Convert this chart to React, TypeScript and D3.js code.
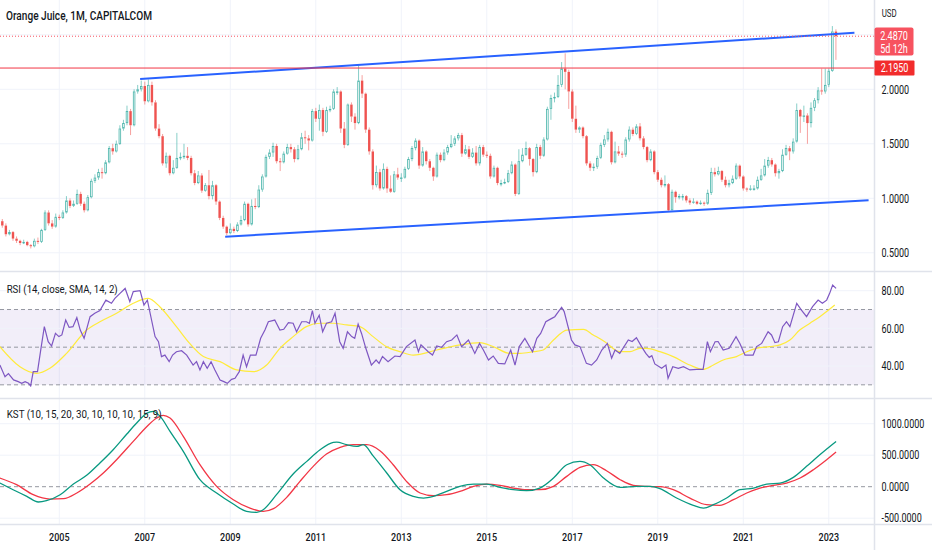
import React from 'react';
import * as d3 from 'd3';

// ---------- DATA ----------
// Monthly bars, first bar = Sep 2003 (month index relative to Jan 2005)
const firstBarMonth = -16;
const firstOpen = 0.79;
const closes = [
  0.75,0.67,0.69,0.63,0.61,0.59,0.60,0.57,0.56,0.61,0.60,0.71,0.87,0.77,0.74,0.83,
  0.82,0.87,0.98,0.93,0.95,1.04,0.95,0.89,1.01,1.16,1.19,1.24,
  1.23,1.33,1.46,1.43,1.50,1.64,1.69,1.80,1.67,1.98,2.00,2.03,
  1.89,2.04,1.88,1.64,1.57,1.32,1.39,1.23,1.28,1.37,1.38,1.39,
  1.37,1.23,1.14,1.21,1.07,1.12,1.02,1.12,0.97,0.82,0.74,0.68,
  0.72,0.70,0.76,0.80,0.95,0.76,0.93,0.92,1.08,1.20,1.38,1.42,
  1.48,1.34,1.33,1.41,1.47,1.45,1.36,1.45,1.56,1.55,1.53,1.80,
  1.73,1.81,1.61,1.81,1.82,1.98,1.98,1.64,1.49,1.86,1.75,1.69,
  2.08,1.96,1.63,1.43,1.12,1.24,1.09,1.27,1.09,1.06,1.22,1.19,
  1.19,1.27,1.36,1.46,1.53,1.30,1.43,1.34,1.28,1.20,1.40,1.35,
  1.42,1.47,1.50,1.55,1.58,1.41,1.45,1.38,1.42,1.32,1.47,1.40,
  1.39,1.20,1.28,1.14,1.14,1.15,1.23,1.31,1.04,1.34,1.40,1.46,
  1.36,1.24,1.47,1.39,1.54,1.82,1.92,1.93,2.04,2.19,2.16,1.98,
  1.73,1.63,1.65,1.57,1.32,1.28,1.29,1.37,1.49,1.54,1.61,1.33,
  1.43,1.41,1.40,1.54,1.63,1.59,1.66,1.55,1.47,1.35,1.43,1.24,
  1.17,1.12,1.13,0.89,1.06,1.01,1.02,1.02,0.98,0.96,0.97,0.95,
  0.96,0.95,1.05,1.24,1.22,1.25,1.17,1.12,1.14,1.18,1.30,1.20,
  1.09,1.08,1.09,1.09,1.17,1.21,1.30,1.35,1.31,1.23,1.25,1.40,
  1.46,1.43,1.52,1.81,1.75,1.76,1.69,1.83,1.90,1.99,1.98,2.04,
  2.17,2.53,2.487,
];
const highs = [
  0.81,0.77,0.71,0.70,0.65,0.62,0.62,0.61,0.58,0.63,0.64,0.72,0.89,0.89,0.80,0.86,
  0.85,0.89,1.02,1.00,0.98,1.08,1.06,0.97,1.03,1.18,1.22,1.27,
  1.28,1.35,1.48,1.50,1.53,1.67,1.72,1.85,1.82,2.00,2.04,2.08,
  2.07,2.09,2.07,1.90,1.68,1.59,1.42,1.40,1.35,1.60,1.42,1.50,
  1.47,1.39,1.26,1.25,1.23,1.14,1.26,1.16,1.13,0.98,0.84,0.75,
  0.77,0.74,0.78,0.84,0.97,0.96,0.99,1.00,1.12,1.22,1.40,1.45,
  1.51,1.50,1.37,1.43,1.50,1.50,1.47,1.49,1.60,1.62,1.58,1.82,
  1.83,1.86,1.83,1.84,1.85,2.00,2.02,1.99,1.70,1.87,1.88,1.78,
  2.22,2.13,1.97,1.65,1.45,1.30,1.27,1.32,1.29,1.21,1.25,1.28,
  1.23,1.29,1.38,1.48,1.55,1.54,1.47,1.44,1.36,1.29,1.42,1.42,
  1.45,1.49,1.58,1.57,1.60,1.60,1.49,1.48,1.46,1.48,1.49,1.49,
  1.43,1.41,1.30,1.29,1.17,1.18,1.26,1.34,1.32,1.45,1.46,1.52,
  1.47,1.37,1.50,1.49,1.56,1.84,1.95,1.97,2.13,2.25,2.33,2.18,
  2.00,1.85,1.66,1.66,1.58,1.34,1.32,1.39,1.51,1.58,1.64,1.62,
  1.52,1.48,1.43,1.56,1.66,1.65,1.68,1.69,1.57,1.48,1.45,1.44,
  1.26,1.19,1.21,1.14,1.08,1.07,1.04,1.04,1.03,1.00,1.00,0.98,
  0.98,0.97,1.08,1.28,1.28,1.29,1.26,1.20,1.17,1.21,1.32,1.31,
  1.21,1.10,1.12,1.12,1.20,1.27,1.36,1.38,1.37,1.32,1.27,1.45,
  1.49,1.48,1.55,1.87,1.82,1.85,1.78,1.88,1.92,2.02,2.19,2.19,
  2.19,2.58,2.55,
];
const lows = [
  0.73,0.65,0.66,0.61,0.59,0.57,0.58,0.56,0.54,0.55,0.58,0.59,0.70,0.75,0.72,0.73,
  0.80,0.81,0.86,0.91,0.92,0.94,0.93,0.87,0.88,1.00,1.14,1.17,
  1.18,1.22,1.32,1.40,1.42,1.49,1.62,1.67,1.58,1.66,1.96,1.98,
  1.86,1.88,1.85,1.62,1.55,1.30,1.28,1.21,1.22,1.27,1.35,1.36,
  1.35,1.21,1.12,1.13,1.05,1.06,0.99,0.99,0.94,0.80,0.72,0.66,
  0.67,0.68,0.69,0.75,0.79,0.74,0.75,0.90,0.91,1.06,1.19,1.36,
  1.38,1.32,1.25,1.32,1.40,1.42,1.33,1.35,1.44,1.50,1.44,1.52,
  1.70,1.62,1.57,1.60,1.79,1.81,1.95,1.60,1.46,1.48,1.70,1.63,
  1.68,1.92,1.60,1.40,1.08,1.10,1.07,1.08,1.05,1.05,1.05,1.17,
  1.15,1.18,1.26,1.34,1.44,1.27,1.29,1.31,1.25,1.16,1.19,1.33,
  1.34,1.40,1.46,1.48,1.53,1.38,1.40,1.36,1.37,1.30,1.30,1.38,
  1.37,1.18,1.19,1.12,1.11,1.13,1.14,1.22,1.02,1.03,1.33,1.39,
  1.30,1.20,1.23,1.36,1.38,1.53,1.72,1.88,1.92,2.02,2.00,1.82,
  1.70,1.60,1.60,1.55,1.30,1.25,1.25,1.27,1.36,1.47,1.52,1.31,
  1.32,1.39,1.37,1.38,1.52,1.57,1.58,1.53,1.45,1.33,1.34,1.22,
  1.15,1.10,1.10,0.88,0.90,0.96,0.99,0.98,0.96,0.94,0.95,0.94,
  0.94,0.93,0.94,1.03,1.20,1.21,1.15,1.10,1.10,1.13,1.17,1.18,
  1.07,1.06,1.07,1.07,1.08,1.16,1.20,1.28,1.29,1.20,1.18,1.24,
  1.39,1.35,1.41,1.51,1.60,1.70,1.50,1.65,1.80,1.87,1.95,1.96,
  2.02,2.16,2.27,
];

// RSI (14) line, [decimal year, value]
const rsiPoints: [number, number][] = [
  [2003.61,40.5],[2003.73,34.3],[2003.81,36.0],[2003.93,32.6],[2004.04,31.7],[2004.12,30.8],[2004.20,31.7],[2004.28,30.8],
  [2004.33,29.4],[2004.39,37.0],[2004.49,37.0],[2004.56,47.6],[2004.65,60.9],[2004.74,52.9],[2004.82,50.6],[2004.91,57.3],
  [2004.99,55.6],[2005.06,56.5],[2005.15,64.4],[2005.23,60.5],[2005.32,60.9],[2005.41,65.7],[2005.49,59.1],[2005.58,54.7],
  [2005.72,66.2],[2005.83,68.0],[2005.95,69.4],[2006.09,75.0],[2006.22,73.3],[2006.30,75.9],[2006.42,78.6],[2006.54,81.2],
  [2006.65,74.2],[2006.73,79.5],[2006.89,80.0],[2006.98,72.4],[2007.06,75.0],[2007.24,55.6],[2007.32,52.9],[2007.39,45.0],
  [2007.47,45.8],[2007.57,42.3],[2007.65,45.8],[2007.74,47.6],[2007.86,48.1],[2007.98,45.8],[2008.13,40.5],[2008.21,42.3],
  [2008.29,37.9],[2008.37,42.3],[2008.46,38.8],[2008.55,42.3],[2008.64,37.9],[2008.76,32.6],[2008.85,31.7],[2008.93,30.8],
  [2009.03,32.9],[2009.11,33.5],[2009.21,37.0],[2009.30,45.8],[2009.38,39.6],[2009.47,45.8],[2009.60,45.8],[2009.71,54.7],
  [2009.81,59.1],[2009.89,63.5],[2010.04,64.4],[2010.16,59.1],[2010.25,59.5],[2010.36,63.0],[2010.47,62.7],[2010.55,58.2],
  [2010.67,63.5],[2010.78,63.5],[2010.85,62.7],[2010.92,69.4],[2010.98,62.7],[2011.08,67.0],[2011.16,58.2],[2011.25,62.7],
  [2011.37,63.5],[2011.45,68.0],[2011.56,52.9],[2011.64,49.4],[2011.74,58.2],[2011.84,55.6],[2011.91,54.7],[2011.99,62.3],
  [2012.07,57.3],[2012.17,49.4],[2012.30,40.5],[2012.41,43.2],[2012.48,41.4],[2012.56,45.0],[2012.69,42.3],[2012.85,45.3],
  [2012.97,45.0],[2013.12,50.3],[2013.32,53.8],[2013.40,47.6],[2013.46,51.2],[2013.63,47.6],[2013.73,45.8],[2013.83,50.6],
  [2013.94,49.9],[2014.06,52.9],[2014.18,53.8],[2014.30,56.5],[2014.41,50.3],[2014.57,53.8],[2014.72,46.7],[2014.83,52.0],
  [2014.92,48.5],[2015.04,43.2],[2015.15,45.3],[2015.27,41.4],[2015.42,41.1],[2015.56,48.5],[2015.66,40.5],[2015.76,50.3],
  [2015.89,54.7],[2016.07,47.6],[2016.17,54.7],[2016.26,57.3],[2016.38,63.5],[2016.52,65.3],[2016.59,66.2],[2016.75,71.2],
  [2016.81,68.9],[2016.98,53.8],[2017.06,51.2],[2017.18,50.3],[2017.33,41.4],[2017.45,40.5],[2017.57,43.2],[2017.69,48.5],
  [2017.82,52.0],[2017.92,44.1],[2018.00,48.5],[2018.11,46.7],[2018.31,53.8],[2018.40,53.0],[2018.50,55.0],[2018.62,50.3],
  [2018.72,46.7],[2018.80,44.6],[2018.86,45.5],[2018.93,41.1],[2019.09,38.8],[2019.19,40.5],[2019.24,33.5],[2019.35,39.6],
  [2019.48,38.8],[2019.60,39.6],[2019.75,37.9],[2019.91,38.2],[2020.06,38.2],[2020.16,52.9],[2020.23,47.6],[2020.34,52.9],
  [2020.41,53.0],[2020.53,48.5],[2020.67,49.4],[2020.83,55.6],[2020.92,52.0],[2021.04,45.8],[2021.23,45.8],[2021.31,50.3],
  [2021.43,52.0],[2021.58,58.2],[2021.66,56.5],[2021.74,52.4],[2021.82,52.9],[2021.92,60.9],[2022.01,63.5],[2022.09,60.9],
  [2022.25,73.3],[2022.36,69.7],[2022.48,66.2],[2022.62,71.5],[2022.75,75.0],[2022.85,73.3],[2022.95,75.0],[2023.02,78.6],
  [2023.09,83.0],[2023.17,81.2],
];
// RSI SMA(14)
const rsiMaPoints: [number, number][] = [
  [2003.61,50.3],[2004.08,39.6],[2004.47,36.1],[2004.78,38.8],[2005.17,46.7],[2005.64,59.1],[2005.95,63.5],[2006.34,68.0],
  [2006.73,73.3],[2007.08,75.9],[2007.35,71.5],[2007.74,60.9],[2008.05,52.0],[2008.37,45.0],[2008.76,42.3],[2009.15,37.9],
  [2009.54,37.0],[2009.85,40.5],[2010.16,49.4],[2010.47,55.6],[2010.78,60.9],[2011.10,62.7],[2011.41,62.7],[2011.72,61.8],
  [2012.03,60.9],[2012.34,55.6],[2012.65,50.3],[2012.97,47.6],[2013.28,45.8],[2013.83,48.5],[2014.37,51.2],[2014.84,52.4],
  [2015.15,50.3],[2015.54,46.7],[2015.78,46.7],[2016.09,47.6],[2016.32,48.5],[2016.56,53.8],[2016.87,59.1],[2017.26,59.5],
  [2017.49,56.5],[2017.76,52.9],[2018.11,47.6],[2018.35,47.6],[2018.58,49.4],[2018.74,49.4],[2019.05,47.6],[2019.36,45.0],
  [2019.75,40.5],[2020.06,38.2],[2020.30,40.5],[2020.53,43.2],[2020.84,45.0],[2021.08,47.6],[2021.31,49.4],[2021.62,50.3],
  [2021.86,51.2],[2022.09,53.8],[2022.32,59.1],[2022.56,62.7],[2022.79,66.2],[2023.14,72.4],
];
// KST line and signal
const kstPoints: [number, number][] = [
  [2003.61,58],[2003.92,-48],[2004.24,-153],[2004.51,-243],[2004.70,-222],[2005.02,-127],[2005.33,42],[2005.64,180],
  [2005.95,376],[2006.26,587],[2006.58,836],[2006.81,1010],[2007.05,1169],[2007.20,1196],[2007.36,1116],[2007.59,878],
  [2007.90,561],[2008.29,111],[2008.68,-100],[2009.07,-275],[2009.38,-391],[2009.62,-407],[2009.77,-365],[2010.08,-127],
  [2010.47,201],[2010.79,402],[2011.10,587],[2011.41,704],[2011.49,709],[2011.72,667],[2011.96,640],[2012.11,667],
  [2012.35,481],[2012.66,217],[2012.97,-48],[2013.28,-153],[2013.52,-180],[2013.75,-153],[2014.06,-74],[2014.37,5],
  [2014.69,42],[2015.00,42],[2015.31,-11],[2015.62,-48],[2015.93,-63],[2016.24,-21],[2016.56,138],[2016.87,349],
  [2017.18,402],[2017.41,349],[2017.73,138],[2018.12,-11],[2018.51,5],[2018.82,5],[2019.05,-32],[2019.44,-180],
  [2019.83,-296],[2020.07,-339],[2020.30,-286],[2020.61,-180],[2020.92,-48],[2021.24,-21],[2021.55,42],[2021.86,58],
  [2022.17,148],[2022.48,323],[2022.79,508],[2023.17,719],
];
const kstSignalPoints: [number, number][] = [
  [2003.61,138],[2004.00,32],[2004.39,-127],[2004.78,-196],[2005.10,-190],[2005.41,-100],[2005.72,42],[2006.03,217],
  [2006.34,428],[2006.73,719],[2007.05,957],[2007.28,1090],[2007.43,1132],[2007.59,1090],[2007.90,799],[2008.29,349],
  [2008.68,5],[2009.07,-206],[2009.46,-339],[2009.77,-391],[2010.01,-349],[2010.32,-169],[2010.63,85],[2010.94,323],
  [2011.25,518],[2011.57,624],[2011.88,667],[2012.19,667],[2012.50,571],[2012.81,349],[2013.12,85],[2013.44,-100],
  [2013.75,-143],[2014.06,-127],[2014.37,-74],[2014.69,5],[2015.00,42],[2015.31,21],[2015.62,-21],[2015.93,-48],
  [2016.24,-48],[2016.56,5],[2016.87,164],[2017.18,307],[2017.49,349],[2017.80,254],[2018.12,111],[2018.43,21],
  [2018.74,5],[2019.05,0],[2019.36,-48],[2019.75,-180],[2020.14,-286],[2020.45,-296],[2020.77,-206],[2021.08,-100],
  [2021.39,-21],[2021.70,21],[2022.01,58],[2022.33,138],[2022.64,270],[2022.95,428],[2023.17,550],
];

// Drawn trend lines [decimal year, price]
const upperChannel: [number, number][] = [[2006.89, 2.094], [2023.60, 2.519]];
const lowerChannel: [number, number][] = [[2008.88, 0.648], [2023.93, 0.982]];

const priceTicks = [0.5, 1.0, 1.5, 2.0];
const priceGrid = [0.5, 1.0, 1.5, 2.0, 2.5];
const rsiTicks = [40, 60, 80];
const rsiLevels = [70, 50, 30];
const kstTicks = [-500, 0, 500, 1000];
const yearTicks = [2005, 2007, 2009, 2011, 2013, 2015, 2017, 2019, 2021, 2023];

const title = 'Orange Juice, 1M, CAPITALCOM';
const rsiTitle = 'RSI (14, close, SMA, 14, 2)';
const kstTitle = 'KST (10, 15, 20, 30, 10, 10, 10, 15, 9)';
const currency = 'USD';
const lastPrice = 2.487;
const countdown = '5d 12h';
const levelPrice = 2.195;

// ---------- CHART ----------
const FONT = 'Roboto, "Liberation Sans", Arial, sans-serif';
const TXT = '#131722';
const GRID = '#f0f3fa';
const SEP = '#e0e3eb';
const UP = '#26a69a';
const DOWN = '#ef5350';

function T({ x, y, children, size = 12, sx = 0.75, anchor = 'start', fill = TXT, weight = 400 }: any) {
  return (
    <text
      transform={`translate(${x},${y}) scale(${sx},1)`}
      fontSize={size}
      fontFamily={FONT}
      fontWeight={weight}
      textAnchor={anchor}
      fill={fill}
    >
      {children}
    </text>
  );
}

export default function App() {
  const W = 932;
  const H = 550;
  const plotR = 874;
  const mainB = 271;
  const rsiT = 272, rsiB = 398;
  const kstT = 399, kstB = 524;

  const x = d3.scaleLinear().domain([2005, 2023]).range([59.3, 828.8]);
  const yP = d3.scaleLinear().domain([0.5, 2.0]).range([252.8, 89.3]);
  const yR = d3.scaleLinear().domain([40, 80]).range([366, 290.7]);
  const yK = d3.scaleLinear().domain([0, 1000]).range([486.7, 423.7]);
  const monthToYear = (k: number) => 2005 + k / 12;

  const bars = closes.map((c, i) => {
    const k = firstBarMonth + i;
    const o = i === 0 ? firstOpen : closes[i - 1];
    return { t: monthToYear(k), o, c, h: Math.max(highs[i], o, c), l: Math.min(lows[i], o, c) };
  });

  const rsiLine = d3.line<[number, number]>().x((d) => x(d[0])).y((d) => yR(d[1]));
  const rsiMaLine = d3.line<[number, number]>().x((d) => x(d[0])).y((d) => yR(d[1])).curve(d3.curveMonotoneX);
  const kstLine = d3.line<[number, number]>().x((d) => x(d[0])).y((d) => yK(d[1])).curve(d3.curveMonotoneX);
  const chLine = d3.line<[number, number]>().x((d) => x(d[0])).y((d) => yP(d[1]));

  const bw = 2.4;
  const fmt4 = (v: number) => v.toFixed(4);

  return (
    <div style={{ width: W, height: H }}>
      <style>{'body{margin:0;background:#fff}'}</style>
      <svg width={W} height={H} viewBox={`0 0 ${W} ${H}`} style={{ display: 'block' }}>
        <defs>
          <clipPath id="cMain"><rect x={0} y={0} width={plotR} height={mainB} /></clipPath>
          <clipPath id="cRsi"><rect x={0} y={rsiT} width={plotR} height={rsiB - rsiT} /></clipPath>
          <clipPath id="cKst"><rect x={0} y={kstT} width={plotR} height={kstB - kstT} /></clipPath>
        </defs>
        <rect x={0} y={0} width={W} height={H} fill="#fff" />

        {/* vertical grid */}
        {yearTicks.map((yr) => (
          <line key={'vg' + yr} x1={x(yr)} x2={x(yr)} y1={0} y2={kstB} stroke={GRID} strokeWidth={1} />
        ))}
        {/* main horizontal grid */}
        {priceGrid.map((p) => (
          <line key={'pg' + p} x1={0} x2={plotR} y1={yP(p)} y2={yP(p)} stroke={GRID} strokeWidth={1} />
        ))}
        {/* RSI grid, band and levels */}
        <rect x={0} y={yR(70)} width={plotR} height={yR(30) - yR(70)} fill="rgba(126,87,194,0.1)" />
        {rsiTicks.map((v) => (
          <line key={'rg' + v} x1={0} x2={plotR} y1={yR(v)} y2={yR(v)} stroke={GRID} strokeWidth={1} />
        ))}
        {rsiLevels.map((v) => (
          <line key={'rl' + v} x1={0} x2={plotR} y1={yR(v)} y2={yR(v)} stroke="#9598a1" strokeWidth={1} strokeDasharray="4,3" />
        ))}
        {/* KST grid */}
        {kstTicks.filter((v) => v !== 0).map((v) => (
          <line key={'kg' + v} x1={0} x2={plotR} y1={yK(v)} y2={yK(v)} stroke={GRID} strokeWidth={1} />
        ))}
        <line x1={0} x2={plotR} y1={yK(0)} y2={yK(0)} stroke="#9598a1" strokeWidth={1} strokeDasharray="4,3" />

        {/* candles */}
        <g clipPath="url(#cMain)">
          {bars.map((b, i) => {
            const cx = x(b.t);
            const up = b.c >= b.o;
            const col = up ? UP : DOWN;
            const top = yP(Math.max(b.o, b.c));
            const bot = yP(Math.min(b.o, b.c));
            return (
              <g key={'b' + i}>
                <line x1={cx} x2={cx} y1={yP(b.h)} y2={top} stroke={col} strokeOpacity={0.55} strokeWidth={1} />
                <line x1={cx} x2={cx} y1={bot} y2={yP(b.l)} stroke={col} strokeOpacity={0.55} strokeWidth={1} />
                {up ? (
                  <rect x={cx - bw / 2 + 0.4} y={top + 0.4} width={bw - 0.8} height={Math.max(bot - top - 0.8, 0.6)}
                    fill="#fff" stroke={col} strokeWidth={0.8} strokeOpacity={0.85} />
                ) : (
                  <rect x={cx - bw / 2} y={top} width={bw} height={Math.max(bot - top, 1)} fill={col} />
                )}
              </g>
            );
          })}
          {/* channel lines */}
          <path d={chLine(upperChannel) || ''} stroke="#2962ff" strokeWidth={2} fill="none" />
          <path d={chLine(lowerChannel) || ''} stroke="#2962ff" strokeWidth={2} fill="none" />
          {/* horizontal level and last price line */}
          <line x1={0} x2={plotR} y1={yP(levelPrice)} y2={yP(levelPrice)} stroke="#f23645" strokeWidth={1} />
          <line x1={0} x2={plotR} y1={yP(lastPrice)} y2={yP(lastPrice)} stroke="#f7525f" strokeWidth={1} strokeDasharray="1,2" />
        </g>

        {/* RSI */}
        <g clipPath="url(#cRsi)">
          <path d={rsiMaLine(rsiMaPoints) || ''} stroke="#ffeb3b" strokeWidth={1.2} fill="none" />
          <path d={rsiLine(rsiPoints) || ''} stroke="#7e57c2" strokeWidth={1.2} fill="none" />
        </g>

        {/* KST */}
        <g clipPath="url(#cKst)">
          <path d={kstLine(kstSignalPoints) || ''} stroke="#f23645" strokeWidth={1.3} fill="none" />
          <path d={kstLine(kstPoints) || ''} stroke="#089981" strokeWidth={1.3} fill="none" />
        </g>

        {/* separators */}
        <line x1={0} x2={W} y1={mainB + 0.5} y2={mainB + 0.5} stroke={SEP} strokeWidth={1.5} />
        <line x1={0} x2={W} y1={rsiB + 0.5} y2={rsiB + 0.5} stroke={SEP} strokeWidth={1.5} />
        <line x1={0} x2={W} y1={kstB + 0.5} y2={kstB + 0.5} stroke={SEP} strokeWidth={1.5} />
        <line x1={plotR + 0.5} x2={plotR + 0.5} y1={0} y2={H} stroke={SEP} strokeWidth={1.5} />

        {/* legends */}
        <text x={6} y={19.5} fontSize={12} fontFamily={FONT} fontWeight={500} fill={TXT}
          textLength={146} lengthAdjust="spacingAndGlyphs">{title}</text>
        <text x={6.7} y={292.5} fontSize={10.5} fontFamily={FONT} fill={TXT}
          textLength={111} lengthAdjust="spacingAndGlyphs">{rsiTitle}</text>
        <text x={6.7} y={418.3} fontSize={10.5} fontFamily={FONT} fill={TXT}
          textLength={155} lengthAdjust="spacingAndGlyphs">{kstTitle}</text>

        {/* right axes */}
        <text x={881.7} y={16.7} fontSize={10.5} fontFamily={FONT} fill={TXT}
          textLength={15} lengthAdjust="spacingAndGlyphs">{currency}</text>
        {priceTicks.map((p) => (
          <T key={'pt' + p} x={881.5} y={yP(p) + 4.2}>{fmt4(p)}</T>
        ))}
        {rsiTicks.map((v) => (
          <T key={'rt' + v} x={881.5} y={yR(v) + 4.2}>{v.toFixed(2)}</T>
        ))}
        {kstTicks.map((v) => (
          <T key={'kt' + v} x={881.5} y={yK(v) + 4.2}>{fmt4(v)}</T>
        ))}

        {/* price labels */}
        <rect x={874.5} y={27.5} width={39} height={28} rx={2} fill="#f7525f" />
        <T x={894} y={yP(lastPrice) + 4} anchor="middle" fill="#fff">{lastPrice.toFixed(4)}</T>
        <T x={894} y={yP(lastPrice) + 17} anchor="middle" fill="#fff">{countdown}</T>
        <rect x={874.5} y={yP(levelPrice) - 7.5} width={40} height={15} rx={1} fill="#f22c2c" />
        <T x={894.5} y={yP(levelPrice) + 4.2} anchor="middle" fill="#fff">{levelPrice.toFixed(4)}</T>

        {/* time axis */}
        {yearTicks.map((yr) => (
          <T key={'yt' + yr} x={x(yr)} y={540.5} size={11} sx={0.82} anchor="middle" weight={500}>{String(yr)}</T>
        ))}
      </svg>
    </div>
  );
}
